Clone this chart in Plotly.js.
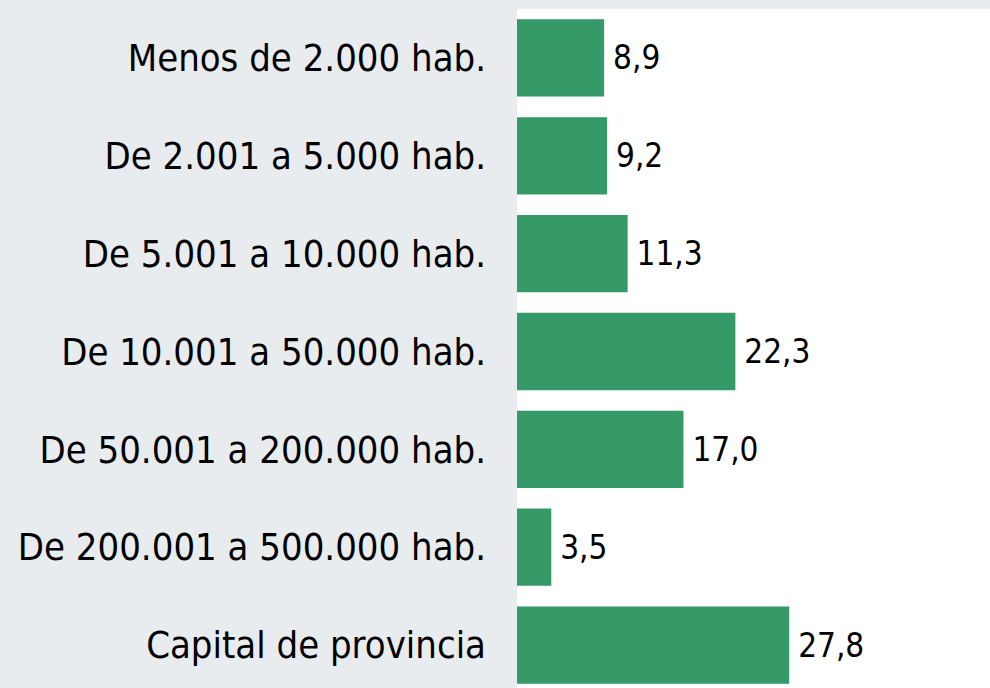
<!DOCTYPE html>
<html>
<head>
<meta charset="utf-8">
<script src="https://cdn.plot.ly/plotly-3.0.1.min.js"></script>
<style>
html, body { margin: 0; padding: 0; overflow: hidden; background: #e9ecee; }
#chart { width: 990px; height: 694px; }
</style>
</head>
<body>
<div id="chart"></div>
<script>
const categories = [
  "Menos de 2.000 hab.",
  "De 2.001 a 5.000 hab.",
  "De 5.001 a 10.000 hab.",
  "De 10.001 a 50.000 hab.",
  "De 50.001 a 200.000 hab.",
  "De 200.001 a 500.000 hab.",
  "Capital de provincia"
];
const values = [8.9, 9.2, 11.3, 22.3, 17.0, 3.5, 27.8];

const trace = {
  type: "bar",
  orientation: "h",
  x: values,
  y: categories,
  marker: { color: "#359968" },
  texttemplate: "\u2009%{x:.1f}",
  textposition: "outside",
  cliponaxis: false,
  textfont: { family: "DejaVu Sans Condensed", size: 33, color: "#000000" },
  hoverinfo: "none"
};

const layout = {
  width: 990,
  height: 694,
  margin: { l: 517, r: 0, t: 9, b: 0, pad: 0 },
  paper_bgcolor: "#e9ecee",
  plot_bgcolor: "#ffffff",
  separators: ",.",
  bargap: 0.21,
  showlegend: false,
  xaxis: {
    range: [0, 48.3],
    visible: false,
    showgrid: false,
    zeroline: false,
    fixedrange: true
  },
  yaxis: {
    autorange: "reversed",
    showgrid: false,
    zeroline: false,
    showline: false,
    ticks: "",
    ticklabelstandoff: 30,
    tickfont: { family: "DejaVu Sans Condensed", size: 37.9, color: "#000000" },
    fixedrange: true
  }
};

Plotly.newPlot("chart", [trace], layout, { displayModeBar: false, staticPlot: true });
</script>
</body>
</html>
